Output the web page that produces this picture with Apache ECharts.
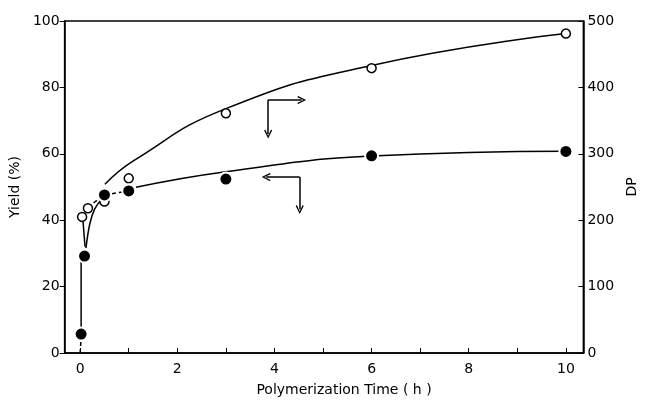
<!DOCTYPE html>
<html>
<head>
<meta charset="utf-8">
<script src="https://cdn.jsdelivr.net/npm/echarts@6/dist/echarts.min.js"></script>
<style>
  html, body { margin: 0; padding: 0; background: #fff; }
  #chart { width: 647px; height: 406px; }
</style>
</head>
<body>
<div id="chart"></div>
<script>
// measured points
const yieldPoints = [[0.02, 5.7], [0.09, 29.2], [0.5, 47.6], [1, 48.8], [3, 52.4], [6, 59.4], [10, 60.7]]
const dpPoints = [[0.04, 205], [0.16, 218], [0.5, 228], [1, 263], [3, 361], [6, 429], [10, 481]]

// hand-drawn curve pieces
const yieldRise = [[0.02, 6], [0.02, 28]]
const yieldHook = [[0.1, 32], [0.06, 39.5]]
const yieldDashLow = [[0, 0], [0.02, 5]]
const yieldDashMid = [[0.16, 44], [0.5, 47.6], [1, 48.8]]
const yieldFit = [[1.15, 49.9], [3, 54.6], [6, 59.3], [10, 60.8]]
const dpFitEarly = [[0.12, 158], [0.2, 195], [0.3, 217], [0.45, 232]]
const dpFit = [[0.51, 254], [1.11, 290], [3, 368], [6, 433], [10, 481]]

const xTicks = [0, 1, 2, 3, 4, 5, 6, 7, 8, 9, 10]
const xLabels = [0, 2, 4, 6, 8, 10]

const font = { fontFamily: 'DejaVu Sans', fontSize: 14, color: '#000' }
const chevron = 'path://M5,0L10,8L8.6,9L5,2.6L1.4,9L0,8Z'
const dashed = { color: '#000', width: 1.5, type: [4, 3] }

const chart = echarts.init(document.getElementById('chart'))

function penLine(data, opts) {
  return Object.assign({
    type: 'line',
    data: data,
    showSymbol: false,
    symbol: 'none',
    silent: true,
    animation: false,
    lineStyle: { color: '#000', width: 1.5 },
    z: 2
  }, opts)
}

chart.setOption({
  animation: false,
  grid: {
    left: 62, right: 55, top: 21, bottom: 53,
    show: true, borderColor: '#000', borderWidth: 1.5
  },
  xAxis: {
    type: 'value',
    min: -0.32,
    max: 10.36,
    name: 'Polymerization Time ( h )',
    nameLocation: 'middle',
    nameGap: 30,
    nameTextStyle: Object.assign({}, font, { padding: [0, 0, 0, 40] }),
    axisLine: { onZero: false, lineStyle: { color: '#000', width: 1.5 } },
    axisTick: { inside: true, length: 5, customValues: xTicks, lineStyle: { color: '#000' } },
    axisLabel: Object.assign({}, font, { customValues: xLabels, margin: 9 }),
    splitLine: { show: false }
  },
  yAxis: [{
    type: 'value',
    min: 0,
    max: 100,
    interval: 20,
    name: 'Yield (%)',
    nameLocation: 'middle',
    nameRotate: 90,
    nameGap: 37,
    nameTextStyle: font,
    axisLine: { show: true, onZero: false, lineStyle: { color: '#000', width: 1.5 } },
    axisTick: { show: true, length: 5, lineStyle: { color: '#000' } },
    axisLabel: Object.assign({}, font, { margin: 5 }),
    splitLine: { show: false }
  }, {
    type: 'value',
    position: 'right',
    min: 0,
    max: 500,
    interval: 100,
    name: 'DP',
    nameLocation: 'middle',
    nameRotate: 90,
    nameGap: 40,
    nameTextStyle: font,
    axisLine: { show: true, onZero: false, lineStyle: { color: '#000', width: 1.5 } },
    axisTick: { show: true, inside: true, length: 5, lineStyle: { color: '#000' } },
    axisLabel: Object.assign({}, font, { margin: 4 }),
    splitLine: { show: false }
  }],
  series: [
    penLine(yieldRise, { yAxisIndex: 0 }),
    penLine(yieldHook, { yAxisIndex: 0 }),
    penLine(yieldDashLow, { yAxisIndex: 0, lineStyle: dashed }),
    penLine(yieldDashMid, { yAxisIndex: 0, lineStyle: dashed }),
    penLine(yieldFit, {
      yAxisIndex: 0,
      smooth: 0.5,
      markLine: {
        silent: true,
        animation: false,
        label: { show: false },
        lineStyle: { color: '#000', width: 1.5, type: 'solid' },
        symbolSize: [8, 9],
        data: [
          [{ coord: [3.87, 76.2], symbol: 'none' }, { coord: [4.56, 76.2], symbol: chevron }],
          [{ coord: [3.87, 76.2], symbol: 'none' }, { coord: [3.87, 66], symbol: chevron }],
          [{ coord: [4.52, 53], symbol: 'none' }, { coord: [3.83, 53], symbol: chevron }],
          [{ coord: [4.52, 53], symbol: 'none' }, { coord: [4.52, 43.2], symbol: chevron }]
        ]
      }
    }),
    penLine(dpFitEarly, { yAxisIndex: 1, smooth: 0.4 }),
    penLine(dpFit, { yAxisIndex: 1, smooth: 0.5 }),
    {
      name: 'Yield',
      type: 'scatter',
      yAxisIndex: 0,
      data: yieldPoints,
      symbol: 'circle',
      symbolSize: 13,
      itemStyle: { color: '#000', borderColor: '#fff', borderWidth: 2, opacity: 1 },
      z: 5
    },
    {
      name: 'DP',
      type: 'scatter',
      yAxisIndex: 1,
      data: dpPoints,
      symbol: 'circle',
      symbolSize: 9,
      itemStyle: { color: '#fff', borderColor: '#000', borderWidth: 1.5, opacity: 1 },
      z: 4
    }
  ]
})
</script>
</body>
</html>
